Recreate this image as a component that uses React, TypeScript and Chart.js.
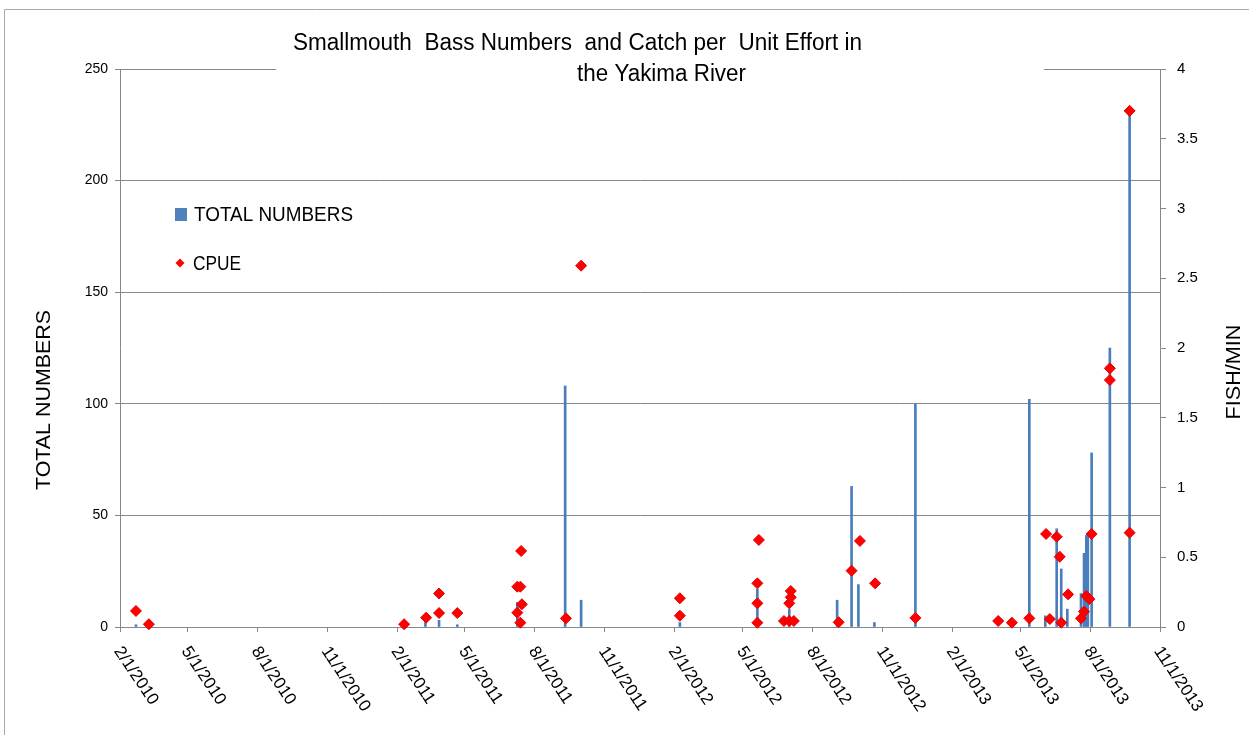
import React, { useEffect, useRef } from 'react';
import { Chart, registerables } from 'chart.js';

Chart.register(...registerables);

// ---- data ----
const barDates = [
  '2010-02-22', '2011-03-10', '2011-03-28', '2011-04-21', '2011-07-09', '2011-09-10', '2011-10-01',
  '2012-02-08', '2012-05-20', '2012-07-01', '2012-09-02', '2012-09-21', '2012-09-30', '2012-10-21',
  '2012-12-14', '2013-05-13', '2013-06-03', '2013-06-18', '2013-06-24', '2013-07-02', '2013-07-20',
  '2013-07-24', '2013-07-27', '2013-07-29', '2013-08-03', '2013-08-27', '2013-09-22',
];
const barValues = [
  1, 2, 3, 1, 11, 108, 12,
  2, 17, 8, 12, 63, 19, 2,
  100, 102, 5, 44, 26, 8, 15,
  33, 41, 42, 78, 125, 231,
];

const cpueDates = [
  '2010-02-22', '2010-03-11', '2011-02-10', '2011-03-11', '2011-03-28', '2011-03-28', '2011-04-21',
  '2011-07-09', '2011-07-09', '2011-07-13', '2011-07-13', '2011-07-14', '2011-07-15', '2011-09-11',
  '2011-10-01', '2012-02-08', '2012-02-08', '2012-05-22', '2012-05-20', '2012-05-20', '2012-05-20',
  '2012-06-24', '2012-07-01', '2012-07-01', '2012-07-03', '2012-07-03', '2012-07-07', '2012-09-04',
  '2012-09-21', '2012-10-02', '2012-10-22', '2012-12-14', '2013-04-02', '2013-04-20', '2013-05-13',
  '2013-06-04', '2013-06-09', '2013-06-18', '2013-06-22', '2013-06-24', '2013-07-03', '2013-07-20',
  '2013-07-24', '2013-07-27', '2013-07-31', '2013-08-03', '2013-08-27', '2013-08-27', '2013-09-22',
  '2013-09-22',
];
const cpueValues = [
  0.115, 0.02, 0.02, 0.067, 0.24, 0.1, 0.1,
  0.289, 0.103, 0.289, 0.031, 0.545, 0.163, 0.062,
  2.59, 0.206, 0.081, 0.624, 0.313, 0.17, 0.031,
  0.043, 0.043, 0.17, 0.213, 0.258, 0.043, 0.034,
  0.404, 0.617, 0.313, 0.065, 0.043, 0.031, 0.062,
  0.667, 0.057, 0.647, 0.504, 0.031, 0.234, 0.062,
  0.11, 0.222, 0.2, 0.667, 1.854, 1.77, 3.7,
  0.676,
];

const xTickDates = [
  '2010-02-01', '2010-05-01', '2010-08-01', '2010-11-01',
  '2011-02-01', '2011-05-01', '2011-08-01', '2011-11-01',
  '2012-02-01', '2012-05-01', '2012-08-01', '2012-11-01',
  '2013-02-01', '2013-05-01', '2013-08-01', '2013-11-01',
];

const titleLines = ['Smallmouth  Bass Numbers  and Catch per  Unit Effort in', 'the Yakima River'];
const leftAxisTitle = 'TOTAL NUMBERS';
const rightAxisTitle = 'FISH/MIN';
const barLabel = 'TOTAL NUMBERS';
const cpueLabel = 'CPUE';

// ---- helpers ----
const BASE = Date.UTC(2010, 1, 1);
function dayOf(s: string): number {
  const [y, m, d] = s.split('-').map(Number);
  return Math.round((Date.UTC(y, m - 1, d) - BASE) / 86400000);
}
function fmtDate(s: string): string {
  const [y, m, d] = s.split('-').map(Number);
  return `${m}/${d}/${y}`;
}

const GRAY = '#878787';
const FONT = "'Liberation Sans', Arial, sans-serif";
const BAR_COLOR = '#4a7ebb';
const RED = '#ff0000';

function fitText(ctx: CanvasRenderingContext2D, text: string, x: number, y: number, width: number, font: string, align: 'left' | 'center') {
  ctx.save();
  ctx.font = font;
  const w = ctx.measureText(text).width;
  ctx.translate(x, y);
  ctx.scale(width / w, 1);
  ctx.textAlign = align;
  ctx.textBaseline = 'alphabetic';
  ctx.fillText(text, 0, 0);
  ctx.restore();
}

const decor = {
  id: 'decor',
  beforeDraw(chart: any) {
    const ctx: CanvasRenderingContext2D = chart.ctx;
    ctx.save();
    ctx.fillStyle = '#ffffff';
    ctx.fillRect(0, 0, chart.width, chart.height);
    ctx.strokeStyle = '#a8a8a8';
    ctx.lineWidth = 1;
    ctx.beginPath();
    ctx.moveTo(4.5, chart.height);
    ctx.lineTo(4.5, 9.5);
    ctx.lineTo(chart.width, 9.5);
    ctx.stroke();
    ctx.restore();
  },
  afterDraw(chart: any) {
    const ctx: CanvasRenderingContext2D = chart.ctx;
    const xs = chart.scales.x;
    ctx.save();
    // title box masks the top gridline
    ctx.fillStyle = '#ffffff';
    ctx.fillRect(276, 64, 768, 10);
    ctx.fillStyle = '#000000';
    fitText(ctx, titleLines[0], 577.5, 50, 569, `23px ${FONT}`, 'center');
    fitText(ctx, titleLines[1], 661.5, 81, 169, `23px ${FONT}`, 'center');

    // legend
    ctx.fillStyle = '#4f81bd';
    ctx.fillRect(175, 208, 12, 13);
    ctx.fillStyle = '#000000';
    fitText(ctx, barLabel, 194, 221, 159, `20px ${FONT}`, 'left');
    ctx.fillStyle = RED;
    ctx.beginPath();
    ctx.moveTo(180, 258.5);
    ctx.lineTo(184.5, 263);
    ctx.lineTo(180, 267.5);
    ctx.lineTo(175.5, 263);
    ctx.closePath();
    ctx.fill();
    ctx.fillStyle = '#000000';
    fitText(ctx, cpueLabel, 193, 270, 48, `20px ${FONT}`, 'left');

    // axis titles
    ctx.save();
    ctx.translate(49.5, 400);
    ctx.rotate(-Math.PI / 2);
    fitText(ctx, leftAxisTitle, 0, 0, 180, `21px ${FONT}`, 'center');
    ctx.restore();
    ctx.save();
    ctx.translate(1240, 372);
    ctx.rotate(-Math.PI / 2);
    fitText(ctx, rightAxisTitle, 0, 0, 95, `21px ${FONT}`, 'center');
    ctx.restore();

    // rotated date labels
    const ang = (56 * Math.PI) / 180;
    ctx.font = `17px ${FONT}`;
    ctx.textAlign = 'left';
    ctx.textBaseline = 'alphabetic';
    ctx.fillStyle = '#000000';
    xTickDates.forEach((d) => {
      const px = xs.getPixelForValue(dayOf(d));
      ctx.save();
      ctx.translate(px - 6.5, 651);
      ctx.rotate(ang);
      ctx.fillText(fmtDate(d), 0, 0);
      ctx.restore();
    });
    ctx.restore();
  },
};

export default function App() {
  const ref = useRef<HTMLCanvasElement | null>(null);
  useEffect(() => {
    if (!ref.current) return;
    const tickDays = xTickDates.map(dayOf);
    const chart = new Chart(ref.current, {
      type: 'scatter',
      data: {
        datasets: [
          {
            type: 'scatter',
            label: cpueLabel,
            data: cpueDates.map((d, i) => ({ x: dayOf(d), y: cpueValues[i] })),
            yAxisID: 'y1',
            xAxisID: 'x',
            pointStyle: 'rectRot',
            pointRadius: 5.5,
            backgroundColor: RED,
            borderColor: '#e60000',
            borderWidth: 1,
            clip: false,
            order: 0,
          } as any,
          {
            type: 'bar',
            label: barLabel,
            data: barDates.map((d, i) => ({ x: dayOf(d), y: barValues[i] })),
            yAxisID: 'y',
            xAxisID: 'x',
            backgroundColor: BAR_COLOR,
            barThickness: 2,
            grouped: false,
            order: 1,
          } as any,
        ],
      },
      options: {
        responsive: false,
        animation: false,
        maintainAspectRatio: false,
        layout: { padding: { top: 69, left: 0, right: 0, bottom: 0 } },
        plugins: { legend: { display: false }, tooltip: { enabled: false }, title: { display: false } },
        scales: {
          x: {
            type: 'linear',
            position: 'bottom',
            min: tickDays[0],
            max: tickDays[tickDays.length - 1],
            offset: false,
            grid: { display: true, drawOnChartArea: false, drawTicks: true, tickLength: 5, color: GRAY, offset: false },
            border: { display: true, color: GRAY, width: 1 },
            ticks: { display: false, autoSkip: false },
            afterBuildTicks: (scale: any) => {
              scale.ticks = tickDays.map((v) => ({ value: v }));
            },
            afterFit: (scale: any) => {
              scale.height = 108;
            },
          },
          y: {
            type: 'linear',
            position: 'left',
            min: 0,
            max: 250,
            ticks: { stepSize: 50, color: '#000', font: { family: FONT, size: 14 }, padding: 7 },
            grid: { color: GRAY, drawTicks: true, tickLength: 5 },
            border: { display: true, color: GRAY },
            afterFit: (scale: any) => {
              scale.width = 120;
            },
          },
          y1: {
            type: 'linear',
            position: 'right',
            min: 0,
            max: 4,
            ticks: {
              stepSize: 0.5,
              color: '#000',
              font: { family: FONT, size: 15 },
              padding: 11,
              callback: (v: any) => String(Number(v)),
            },
            grid: { drawOnChartArea: false, drawTicks: true, tickLength: 6, color: GRAY },
            border: { display: true, color: GRAY },
            afterFit: (scale: any) => {
              scale.width = 89;
            },
          },
        },
      } as any,
      plugins: [decor],
    });
    return () => chart.destroy();
  }, []);
  return (
    <div style={{ position: 'absolute', left: 0, top: 0, width: 1249, height: 735 }}>
      <canvas ref={ref} width={1249} height={735} style={{ display: 'block', width: 1249, height: 735 }} />
    </div>
  );
}
